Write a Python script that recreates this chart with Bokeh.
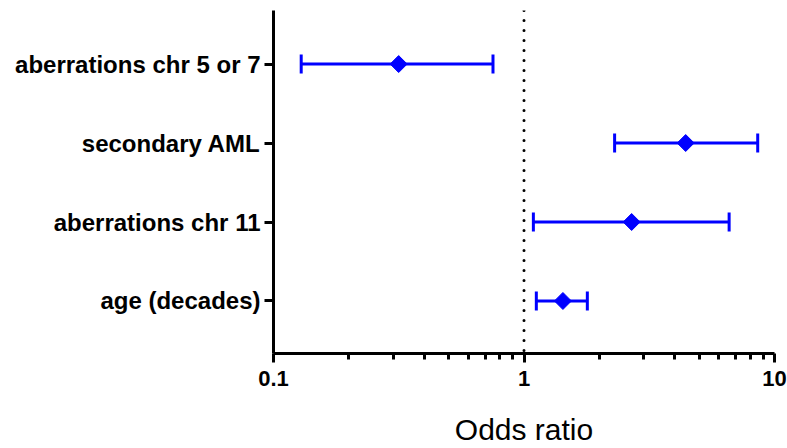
from math import pi
from bokeh.plotting import figure
from bokeh.models import (ColumnDataSource, Whisker, TeeHead, FixedTicker, Span,
                          CustomJSTickFormatter)
from bokeh.embed import file_html
from bokeh.resources import INLINE

# ---- data (top row first) ----
categories = ["aberrations chr 5 or 7", "secondary AML", "aberrations chr 11", "age (decades)"]
odds_ratio = [0.316, 4.42, 2.69, 1.43]
ci_low = [0.129, 2.30, 1.09, 1.12]
ci_high = [0.752, 8.57, 6.59, 1.79]
x_major_ticks = [0.1, 1, 10]
x_minor_ticks = [0.2, 0.3, 0.4, 0.5, 0.6, 0.7, 0.8, 0.9, 2, 3, 4, 5, 6, 7, 8, 9]
reference_value = 1

n = len(categories)
ypos = [n - i for i in range(n)]
src = ColumnDataSource(dict(cat=categories, y=ypos, est=odds_ratio, lo=ci_low, hi=ci_high))

FONT = "Liberation Sans"
BLUE = "#0000FF"

p = figure(width=787, height=448, x_axis_type="log", x_range=(0.1, 10),
           y_range=(0.335, 4.678), output_backend="svg", toolbar_location=None,
           min_border_left=273, min_border_right=13, min_border_top=10, min_border_bottom=92)
p.outline_line_color = None
p.xgrid.visible = False
p.ygrid.visible = False
p.background_fill_color = "white"
p.border_fill_color = "white"

# reference line at OR = 1
p.add_layout(Span(location=reference_value, dimension="height", line_color="black",
                  line_width=3, line_dash="0 10", line_cap="round"))

# error bars
wh = Whisker(source=src, base="y", lower="lo", upper="hi", dimension="width",
             line_color=BLUE, line_width=3,
             upper_head=TeeHead(size=19, line_color=BLUE, line_width=3),
             lower_head=TeeHead(size=19, line_color=BLUE, line_width=3))
p.add_layout(wh)

# point estimates (diamonds)
p.scatter(x="est", y="y", source=src, marker="square", angle=pi / 4, size=12,
          fill_color=BLUE, line_color=BLUE)

# x axis
xa = p.xaxis[0]
xa.ticker = FixedTicker(ticks=x_major_ticks, minor_ticks=x_minor_ticks)
xa.formatter = CustomJSTickFormatter(code="return tick.toString()")
xa.axis_line_width = 3
xa.axis_line_color = "black"
xa.major_tick_line_width = 3
xa.minor_tick_line_width = 3
xa.major_tick_out = 9
xa.major_tick_in = 0
xa.minor_tick_out = 6
xa.minor_tick_in = 0
xa.major_label_text_font = FONT
xa.major_label_text_font_style = "bold"
xa.major_label_text_font_size = "22px"
xa.major_label_text_color = "black"
xa.major_label_standoff = 8
xa.axis_label = "Odds ratio"
xa.axis_label_text_font = FONT
xa.axis_label_text_font_style = "normal"
xa.axis_label_text_font_size = "30px"
xa.axis_label_text_color = "black"
xa.axis_label_standoff = 24

# y axis
ya = p.yaxis[0]
ya.ticker = FixedTicker(ticks=ypos, minor_ticks=[])
ya.major_label_overrides = {y: c for y, c in zip(ypos, categories)}
ya.axis_line_width = 3
ya.axis_line_color = "black"
ya.major_tick_line_width = 3
ya.major_tick_out = 9
ya.major_tick_in = 0
ya.minor_tick_line_color = None
ya.major_label_text_font = FONT
ya.major_label_text_font_style = "bold"
ya.major_label_text_font_size = "24px"
ya.major_label_text_color = "black"
ya.major_label_standoff = 4

open("out.html", "w").write(file_html(p, INLINE))
